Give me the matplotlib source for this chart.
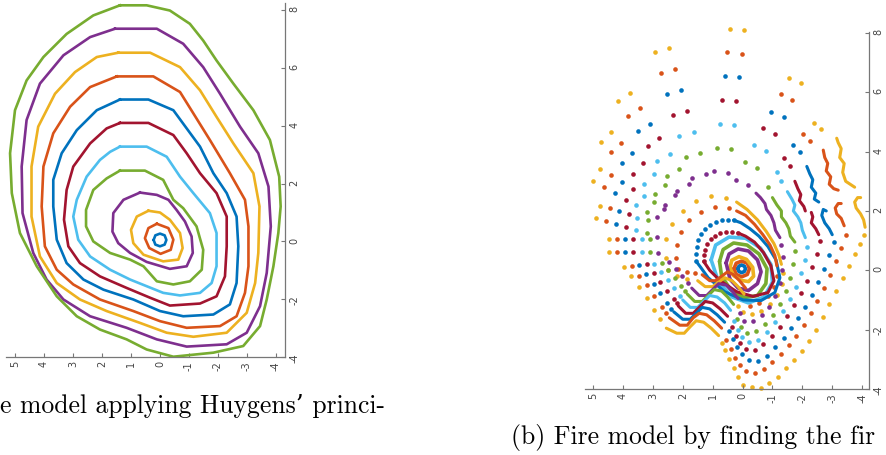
import matplotlib
matplotlib.use("Agg")
import matplotlib.pyplot as plt
import numpy as np

plt.rcParams['axes.unicode_minus'] = False

# matlab default line colours
blue, orange, yellow = '#0072BD', '#D95319', '#EDB120'
purple, green, ltblue, dkred = '#7E2F8E', '#77AC30', '#4DBEEE', '#A2142F'
cycle = [blue, orange, yellow, purple, green, ltblue, dkred]

xticks = [5, 4, 3, 2, 1, 0, -1, -2, -3, -4]
yticks = [-4, -2, 0, 2, 4, 6, 8]

# ---- (a) Huygens contours, innermost first ----
a1 = [(0.22, 0.05), (0.16, 0.21), (0, 0.27), (-0.16, 0.21), (-0.22, 0.05), (-0.16, -0.11), (0, -0.17), (0.16, -0.11)]
a2 = [(0.11, 0.61), (0.40, 0.46), (0.52, 0.11), (0.37, -0.23), (-0.02, -0.43), (-0.37, -0.29), (-0.46, 0.06), (-0.29, 0.46)]
a3 = [(0.40, 1.06), (0.80, 0.86), (1.00, 0.40), (0.92, -0.06), (0.57, -0.46), (-0.11, -0.69), (-0.63, -0.63),
      (-0.78, -0.23), (-0.69, 0.29), (-0.34, 0.75), (0, 1.0)]
a4 = [(0.69, 1.69), (1.26, 1.44), (1.61, 0.98), (1.64, 0.34), (1.44, -0.06), (1.03, -0.40), (0.46, -0.71),
      (-0.34, -0.95), (-0.92, -0.86), (-1.13, -0.40), (-1.09, 0.17), (-0.86, 0.69), (-0.57, 1.09), (-0.29, 1.44), (0.11, 1.61)]
a5 = [(1.38, 2.45), (0.52, 2.45), (-0.11, 2.13), (-0.46, 1.44), (-0.80, 1.15), (-1.26, 0.52), (-1.49, -0.29),
      (-1.44, -0.98), (-1.03, -1.38), (-0.46, -1.49), (0.11, -1.38), (0.57, -0.86), (1.03, -0.63), (1.72, -0.40),
      (2.30, 0), (2.55, 0.52), (2.55, 1.09), (2.30, 1.78), (1.84, 2.18)]
a6 = [(1.38, 3.28), (0.46, 3.28), (-0.23, 2.93), (-0.69, 2.24), (-1.15, 1.67), (-1.72, 0.98), (-1.95, 0.29),
      (-1.95, -0.86), (-1.78, -1.44), (-1.38, -1.78), (-0.69, -1.87), (-0.11, -1.78), (0.46, -1.55), (1.03, -1.32),
      (1.72, -0.98), (2.41, -0.52), (2.82, 0.06), (2.99, 0.86), (2.87, 1.44), (2.53, 2.24), (2.07, 2.82), (1.72, 3.10)]
a7 = [(1.38, 4.10), (0.40, 4.10), (-0.46, 3.68), (-0.92, 3.05), (-1.38, 2.36), (-1.95, 1.67), (-2.30, 0.86),
      (-2.30, -0.17), (-2.24, -1.21), (-1.95, -1.90), (-1.38, -2.15), (-0.34, -2.22), (0.34, -1.95), (1.15, -1.61),
      (2.07, -1.21), (2.76, -0.75), (3.16, -0.17), (3.31, 0.75), (3.22, 1.78), (2.99, 2.59), (2.41, 3.39), (1.84, 3.91)]
a8 = [(1.38, 4.91), (0.40, 4.91), (-0.46, 4.54), (-0.92, 3.91), (-1.38, 3.28), (-1.84, 2.36), (-2.30, 1.67),
      (-2.64, 0.86), (-2.70, -0.17), (-2.64, -1.44), (-2.41, -2.18), (-1.84, -2.53), (-0.80, -2.59), (0, -2.41),
      (0.92, -2.01), (1.95, -1.67), (2.64, -1.32), (3.22, -0.75), (3.56, 0.06), (3.68, 1.21), (3.68, 2.13),
      (3.39, 3.05), (2.87, 3.85), (2.18, 4.54)]
a9 = [(1.49, 5.71), (0.23, 5.71), (-0.69, 5.17), (-1.15, 4.43), (-1.72, 3.51), (-2.41, 2.36), (-2.93, 1.44),
      (-3.05, 0.52), (-3.05, -0.86), (-2.93, -1.78), (-2.64, -2.59), (-2.07, -2.93), (-0.92, -2.99), (0, -2.76),
      (0.92, -2.41), (2.07, -2.01), (2.99, -1.49), (3.56, -0.98), (3.97, -0.17), (4.08, 1.21), (4.02, 2.59),
      (3.68, 3.74), (3.10, 4.66), (2.41, 5.34)]
a10 = [(1.44, 6.53), (0.34, 6.53), (-0.69, 6.03), (-1.38, 5.23), (-1.95, 4.31), (-2.53, 3.39), (-3.22, 2.36),
       (-3.43, 1.21), (-3.39, -0.40), (-3.28, -1.44), (-2.99, -2.47), (-2.30, -3.16), (-1.15, -3.30), (-0.23, -3.16),
       (0.69, -2.82), (1.84, -2.41), (2.76, -2.01), (3.56, -1.44), (4.14, -0.52), (4.43, 0.86), (4.43, 2.59),
       (4.20, 3.97), (3.62, 5.11), (2.93, 5.86), (2.18, 6.38)]
a11 = [(1.55, 7.36), (0.11, 7.36), (-0.80, 6.84), (-1.49, 6.03), (-2.07, 5.11), (-2.76, 3.97), (-3.39, 3.05),
       (-3.74, 1.90), (-3.82, 0.52), (-3.68, -1.09), (-3.45, -2.24), (-2.99, -3.16), (-2.30, -3.56), (-0.92, -3.64),
       (0.11, -3.39), (1.15, -2.99), (2.41, -2.59), (3.33, -2.01), (3.91, -1.32), (4.37, -0.40), (4.74, 0.98),
       (4.77, 2.59), (4.60, 4.20), (4.14, 5.46), (3.33, 6.44), (2.41, 7.07)]
a12 = [(1.38, 8.17), (0.46, 8.17), (-0.34, 7.99), (-1.03, 7.53), (-1.49, 6.95), (-1.95, 6.26), (-2.53, 5.46),
       (-3.22, 4.54), (-3.79, 3.51), (-4.11, 2.24), (-4.16, 1.21), (-4.08, 0.29), (-3.91, -0.86), (-3.68, -2.01),
       (-3.45, -2.93), (-2.87, -3.62), (-1.84, -3.85), (-0.46, -3.99), (0.46, -3.74), (1.15, -3.39), (2.07, -3.05),
       (2.87, -2.59), (3.56, -1.90), (4.25, -0.86), (4.83, 0.29), (5.11, 1.67), (5.17, 3.05), (5.00, 4.54),
       (4.60, 5.57), (4.02, 6.38), (3.22, 7.18), (2.30, 7.82)]
huygens = [a1, a2, a3, a4, a5, a6, a7, a8, a9, a10, a11, a12]

# ---- (b) fire front markers: closed inner fronts ----
b1 = [(0.16, 0.05), (0.12, 0.14), (0.03, 0.18), (-0.06, 0.14), (-0.10, 0.05), (-0.06, -0.04), (0.03, -0.08), (0.12, -0.04)]
b2 = [(0.29, 0.05), (0.21, 0.24), (0.03, 0.31), (-0.16, 0.24), (-0.23, 0.05), (-0.16, -0.14), (0.03, -0.22), (0.21, -0.14)]
b3 = [(0.42, 0.08), (0.36, 0.34), (0.12, 0.46), (-0.13, 0.37), (-0.34, 0.1), (-0.37, -0.2), (-0.2, -0.38),
      (0.05, -0.34), (0.3, -0.18)]
b4 = [(0.55, 0.25), (0.45, 0.55), (0.15, 0.72), (-0.2, 0.65), (-0.5, 0.35), (-0.62, -0.05), (-0.5, -0.45),
      (-0.2, -0.68), (0.15, -0.6), (0.42, -0.3)]
b5 = [(0.77, 0.3), (0.65, 0.7), (0.3, 0.92), (-0.15, 0.85), (-0.55, 0.55), (-0.82, 0.05), (-0.78, -0.45),
      (-0.5, -0.85), (-0.05, -0.92), (0.4, -0.65), (0.7, -0.2)]
b6 = [(1.05, 0.35), (0.9, 0.85), (0.45, 1.12), (-0.1, 1.08), (-0.6, 0.75), (-0.95, 0.2), (-1.0, -0.4),
      (-0.72, -0.9), (-0.2, -1.1), (0.35, -0.9), (0.8, -0.4)]
b7_dots = [(1.3, 0.3), (1.3, 0.5), (1.26, 0.7), (1.18, 0.88), (1.06, 1.04), (0.92, 1.16), (0.75, 1.25),
           (0.56, 1.3), (0.36, 1.3), (0.16, 1.26)]
b7_line = [(0.16, 1.26), (-0.1, 1.15), (-0.4, 0.95), (-0.7, 0.6), (-0.95, 0.15), (-1.05, -0.35), (-0.85, -0.75),
           (-0.35, -0.88), (0.2, -0.72), (0.75, -0.35), (1.1, 0.0), (1.3, 0.3)]
b8_dots = [(1.55, 0.3), (1.56, 0.55), (1.54, 0.8), (1.48, 1.02), (1.38, 1.22), (1.24, 1.4), (1.08, 1.53),
           (0.9, 1.63), (0.7, 1.69), (0.5, 1.71), (0.3, 1.69)]
b8_line = [(0.3, 1.69), (0.05, 1.6), (-0.25, 1.4), (-0.55, 1.15), (-0.85, 0.8), (-1.12, 0.35), (-1.25, -0.25),
           (-1.08, -0.75), (-0.62, -1.02), (-0.02, -1.0), (0.6, -0.72), (1.15, -0.25), (1.4, 0.1), (1.55, 0.3)]

# ---- open fronts 9..17: sparse markers and dense stretches ----
b9_dots = [(1.6, -0.1), (1.85, -0.05), (2.15, 0.05), (2.22, 0.4), (2.2, 0.85), (2.05, 1.3), (1.78, 1.68),
           (1.38, 1.98), (0.92, 2.12), (0.45, 2.1), (-1.15, -0.2), (-1.05, -0.55), (-0.85, -0.85),
           (-0.55, -1.1), (-0.25, -1.2)]
b9_lines = [[(0.2, 2.0), (-0.1, 1.85), (-0.4, 1.55), (-0.68, 1.2), (-0.92, 0.85), (-1.08, 0.5), (-1.15, 0.15)],
            [(1.35, -0.15), (1.1, -0.35), (0.9, -0.35), (0.7, -0.2), (0.5, -0.05), (0.3, -0.15), (0.1, -0.35), (-0.1, -0.6)]]
b10_dots = [(1.85, -0.3), (2.2, -0.2), (2.5, 0.0), (2.55, 0.4), (2.55, 1.04), (2.35, 1.55), (2.0, 2.0),
            (1.55, 2.35), (1.05, 2.5), (0.55, 2.45), (-1.36, -0.1), (-1.32, -0.45), (-1.15, -0.82),
            (-0.92, -1.15), (-0.62, -1.38), (-0.3, -1.47), (0.0, -1.42), (0.15, -1.2)]
b10_lines = [[(0.2, 2.3), (-0.15, 2.05), (-0.5, 1.7), (-0.8, 1.3), (-1.05, 0.9), (-1.22, 0.5), (-1.3, 0.2)],
             [(1.5, -0.35), (1.25, -0.55), (1.0, -0.55), (0.8, -0.4), (0.6, -0.25), (0.35, -0.35), (0.15, -0.55), (-0.05, -0.8)]]
b11_dots = [(-0.18, 2.88), (0.21, 3.04), (0.47, 3.29), (0.94, 3.33), (1.23, 3.26), (1.69, 3.12), (1.8, 2.9),
            (2.2, 2.68), (2.27, 2.55), (2.6, 2.2), (2.62, 2.05), (2.85, 1.78), (2.85, 1.13), (2.82, 0.58),
            (2.45, 0.28), (2.22, 0.05), (2.02, -0.18), (1.82, -0.42),
            (-1.3, 0.85), (-1.35, 0.45), (-1.33, 0.0), (-1.25, -0.42), (-1.1, -0.85), (-0.9, -1.22),
            (-0.65, -1.52), (-0.35, -1.72), (-0.05, -1.72), (0.1, -1.45)]
b11_lines = [[(-0.45, 2.6), (-0.6, 2.45), (-0.75, 2.25), (-0.8, 2.05), (-0.95, 1.85), (-1.05, 1.6), (-1.1, 1.35), (-1.25, 1.1)],
             [(1.7, -0.6), (1.45, -0.85), (1.2, -0.85), (1.0, -0.65), (0.8, -0.45), (0.55, -0.5), (0.35, -0.7), (0.15, -0.95)]]
b12_dots = [(-0.85, 2.82), (-0.48, 3.44), (-0.09, 3.64), (0.38, 4.09), (0.85, 4.13), (1.43, 3.94), (1.90, 3.83),
            (2.13, 3.42), (2.52, 3.17), (2.61, 2.88), (2.94, 2.56), (2.95, 2.30), (3.2, 1.98), (3.17, 1.70),
            (3.2, 1.27), (3.11, 1.04), (3.11, 0.61), (2.7, 0.25), (2.48, 0.0), (2.27, -0.25), (2.05, -0.52), (1.92, -0.7),
            (-1.75, 0.65), (-1.7, 0.2), (-1.6, -0.25), (-1.45, -0.7), (-1.25, -1.12), (-1.02, -1.5), (-0.75, -1.82),
            (-0.45, -2.05), (-0.15, -2.1), (0.05, -1.92), (0.18, -1.65)]
b12_lines = [[(-1.0, 2.45), (-1.15, 2.2), (-1.3, 2.0), (-1.3, 1.8), (-1.45, 1.6), (-1.55, 1.4), (-1.6, 1.15), (-1.75, 0.95)],
             [(1.85, -0.8), (1.6, -1.05), (1.35, -1.05), (1.15, -0.85), (0.95, -0.65), (0.7, -0.7), (0.5, -0.9), (0.3, -1.15)]]
b13_dots = [(-1.3, 3.0), (-1.15, 3.3), (-0.77, 4.03), (-0.38, 4.22), (0.29, 4.90), (0.77, 4.93), (1.64, 4.65),
            (2.11, 4.53), (2.44, 3.93), (2.85, 3.69), (2.97, 3.24), (3.30, 2.91), (3.30, 2.52), (3.55, 2.20),
            (3.52, 1.75), (3.56, 1.36), (3.37, 1.04), (3.37, 0.61), (2.95, 0.22), (2.72, -0.05), (2.5, -0.32),
            (2.28, -0.6), (2.1, -0.85),
            (-2.15, 0.8), (-2.08, 0.35), (-1.95, -0.1), (-1.78, -0.55), (-1.58, -0.98), (-1.35, -1.38), (-1.1, -1.75),
            (-0.82, -2.08), (-0.52, -2.35), (-0.22, -2.42), (0.02, -2.25), (0.15, -2.0), (0.28, -1.72)]
b13_lines = [[(-1.5, 2.65), (-1.65, 2.4), (-1.75, 2.2), (-1.7, 2.0), (-1.85, 1.8), (-1.95, 1.6), (-2.0, 1.35), (-2.1, 1.1)],
             [(2.0, -1.0), (1.75, -1.25), (1.5, -1.25), (1.3, -1.05), (1.1, -0.85), (0.85, -0.9), (0.6, -1.1), (0.4, -1.35)]]
b14_dots = [(-1.6, 3.5), (-1.4, 3.8), (-1.07, 4.60), (-0.68, 4.79), (0.21, 5.69), (0.68, 5.74), (1.85, 5.37),
            (2.32, 5.24), (2.78, 4.45), (3.17, 4.19), (3.32, 3.60), (3.66, 3.24), (3.66, 2.74), (3.90, 2.37),
            (3.8, 1.9), (3.89, 1.45), (3.65, 1.04), (3.65, 0.61), (3.2, 0.2), (2.97, -0.1), (2.75, -0.4),
            (2.52, -0.7), (2.3, -0.98), (2.2, -1.1),
            (-2.6, 1.0), (-2.48, 0.55), (-2.33, 0.1), (-2.15, -0.35), (-1.95, -0.78), (-1.73, -1.18), (-1.5, -1.55),
            (-1.25, -1.9), (-0.98, -2.22), (-0.7, -2.5), (-0.4, -2.68), (-0.12, -2.65), (0.08, -2.45), (0.22, -2.2), (0.35, -1.92)]
b14_lines = [[(-1.75, 3.0), (-1.85, 2.75), (-1.95, 2.55), (-1.9, 2.35), (-2.05, 2.15), (-2.1, 2.0)],
             [(-2.3, 1.95), (-2.35, 1.8), (-2.3, 1.6), (-2.45, 1.4), (-2.55, 1.2)],
             [(2.15, -1.2), (1.9, -1.45), (1.65, -1.45), (1.45, -1.25), (1.25, -1.05), (1.0, -1.1), (0.75, -1.3), (0.5, -1.55)]]
b15_dots = [(-1.91, 3.97), (-1.68, 4.22), (-1.37, 5.16), (-0.96, 5.35), (0.12, 6.51), (0.60, 6.55), (2.05, 6.07),
            (2.52, 5.93), (3.10, 4.94), (3.50, 4.70), (3.69, 3.94), (4.02, 3.61), (4.02, 2.97), (4.26, 2.60),
            (4.12, 2.0), (4.23, 1.56), (3.92, 1.04), (3.92, 0.61), (3.45, 0.18), (3.22, -0.13), (2.97, -0.45),
            (2.75, -0.78), (2.52, -1.1), (2.38, -1.3),
            (-3.05, 0.95), (-2.9, 0.5), (-2.72, 0.05), (-2.53, -0.4), (-2.32, -0.82), (-2.1, -1.22), (-1.87, -1.6),
            (-1.62, -1.95), (-1.37, -2.28), (-1.1, -2.6), (-0.82, -2.88), (-0.52, -3.05), (-0.22, -3.02),
            (0.02, -2.82), (0.18, -2.58), (0.32, -2.32), (0.45, -2.05)]
b15_lines = [[(-2.15, 3.5), (-2.25, 3.25), (-2.35, 3.05), (-2.3, 2.8), (-2.45, 2.6), (-2.4, 2.4), (-2.55, 2.3)],
             [(-2.8, 2.0), (-2.7, 2.05), (-2.65, 1.85), (-2.75, 1.6), (-2.9, 1.4), (-3.0, 1.2)],
             [(2.3, -1.4), (2.0, -1.65), (1.75, -1.65), (1.55, -1.45), (1.35, -1.25), (1.1, -1.3), (0.85, -1.5), (0.6, -1.75)]]
b16_dots = [(-2.27, 4.36), (-2.03, 4.6), (-1.66, 5.74), (-1.27, 5.93), (0.02, 7.30), (0.51, 7.35), (2.27, 6.79),
            (2.74, 6.66), (3.43, 5.46), (3.84, 5.21), (4.06, 4.29), (4.39, 3.97), (4.39, 3.21), (4.64, 2.82),
            (4.45, 2.09), (4.56, 1.67), (4.19, 1.04), (4.19, 0.61), (3.7, 0.15), (3.47, -0.18), (3.2, -0.5),
            (2.95, -0.88), (2.7, -1.22), (2.55, -1.45),
            (-3.45, 1.2), (-3.3, 0.75), (-3.12, 0.3), (-2.93, -0.15), (-2.72, -0.6), (-2.5, -1.05), (-2.28, -1.45),
            (-2.05, -1.85), (-1.8, -2.2), (-1.55, -2.52), (-1.28, -2.82), (-1.0, -3.1), (-0.72, -3.32),
            (-0.42, -3.45), (-0.12, -3.4), (0.1, -3.2), (0.25, -2.95), (0.4, -2.65), (0.55, -2.35)]
b16_lines = [[(-2.7, 4.05), (-2.75, 3.8), (-2.85, 3.6), (-2.8, 3.35), (-2.95, 3.15), (-2.9, 2.9), (-3.05, 2.75), (-3.2, 2.7)],
             [(-3.3, 2.25), (-3.2, 2.25), (-3.1, 2.1), (-3.15, 1.9), (-3.3, 1.75), (-3.4, 1.5)],
             [(2.45, -1.6), (2.1, -1.85), (1.85, -1.85), (1.65, -1.6), (1.45, -1.45), (1.2, -1.5), (0.95, -1.7), (0.7, -1.95)]]
b17_dots = [(-2.63, 4.75), (-2.39, 4.98), (-1.96, 6.30), (-1.57, 6.49), (-0.04, 8.09), (0.43, 8.13), (2.47, 7.48),
            (2.94, 7.35), (3.75, 5.97), (4.17, 5.72), (4.41, 4.65), (4.75, 4.31), (4.76, 3.42), (5.01, 3.02),
            (4.78, 2.17), (4.89, 1.75), (4.48, 1.04), (4.48, 0.61), (3.95, 0.12), (3.72, -0.2), (3.45, -0.55),
            (3.2, -0.95), (2.95, -1.35), (2.75, -1.65),
            (-4.05, 1.2), (-3.92, 0.9), (-3.75, 0.55), (-3.55, 0.15), (-3.35, -0.25), (-3.12, -0.7), (-2.9, -1.15),
            (-2.68, -1.58), (-2.45, -2.0), (-2.22, -2.38), (-1.98, -2.72), (-1.72, -3.02), (-1.45, -3.3),
            (-1.18, -3.58), (-0.9, -3.8), (-0.62, -3.96), (-0.3, -3.92), (0.0, -3.87), (0.15, -3.6), (0.3, -3.3),
            (0.45, -3.0), (0.6, -2.7), (0.7, -2.45)]
b17_lines = [[(-3.15, 4.45), (-3.2, 4.3), (-3.3, 4.1), (-3.25, 3.8), (-3.4, 3.6), (-3.35, 3.3), (-3.45, 3.0), (-3.6, 2.9), (-3.75, 2.8)],
             [(-3.95, 2.45), (-3.85, 2.45), (-3.75, 2.3), (-3.8, 2.1), (-3.95, 1.9), (-4.05, 1.7), (-4.1, 1.45)],
             [(2.55, -1.95), (2.2, -2.12), (1.95, -2.12), (1.75, -1.9), (1.55, -1.7), (1.3, -1.75), (1.05, -1.95), (0.8, -2.2)]]

rings = [b1, b2, b3, b4, b5, b6]
open_fronts = [(b7_dots, [b7_line]), (b8_dots, [b8_line]), (b9_dots, b9_lines), (b10_dots, b10_lines),
               (b11_dots, b11_lines), (b12_dots, b12_lines), (b13_dots, b13_lines), (b14_dots, b14_lines),
               (b15_dots, b15_lines), (b16_dots, b16_lines), (b17_dots, b17_lines)]

cap_a = "e model applying Huygens\u2019 princi-"
cap_b = "(b) Fire model by finding the fir"


def style_axes(ax, xlim, ylim):
    ax.set_xlim(*xlim)
    ax.set_ylim(*ylim)
    ax.set_xticks(xticks)
    ax.set_yticks(yticks)
    ax.yaxis.tick_right()
    ax.spines['left'].set_visible(False)
    ax.spines['top'].set_visible(False)
    for s in ['bottom', 'right']:
        ax.spines[s].set_color('#777777')
        ax.spines[s].set_linewidth(0.9)
    ax.tick_params(direction='in', length=3, width=0.8, color='#777777', labelsize=7,
                   labelcolor='#444444', labelrotation=90, pad=3)
    ax.patch.set_alpha(0)


fig = plt.figure(figsize=(8.87, 4.55), dpi=100)

ax1 = fig.add_axes([6 / 887, 98 / 455, 279 / 887, 354 / 455])
for i, c in enumerate(huygens):
    pts = np.array(c + [c[0]])
    ax1.plot(pts[:, 0], pts[:, 1], color=cycle[i % 7], lw=1.9, solid_joinstyle='round')
style_axes(ax1, (5.31, -4.31), (-4, 8.25))

ax2 = fig.add_axes([585 / 887, 66 / 455, 284 / 887, 357 / 455])
for i, r in enumerate(rings):
    pts = np.array(r + [r[0]])
    ax2.plot(pts[:, 0], pts[:, 1], color=cycle[i % 7], lw=2.6, solid_capstyle='round')
for j, (dots, lines) in enumerate(open_fronts):
    col = cycle[(j + 6) % 7]
    for ln in lines:
        pts = np.array(ln)
        ax2.plot(pts[:, 0], pts[:, 1], color=col, lw=2.2, solid_capstyle='round', solid_joinstyle='round')
    pts = np.array(dots)
    ax2.scatter(pts[:, 0], pts[:, 1], s=11, color=col, linewidths=0, clip_on=False)
style_axes(ax2, (5.27, -4.23), (-4, 8.03))

serif = ['cmr10', 'DejaVu Serif']
fig.text(0.0, 1 - 413 / 455, cap_a, family=serif, fontsize=18.5, va='baseline', ha='left')
fig.text(511 / 887, 1 - 444 / 455, cap_b, family=serif, fontsize=18.5, va='baseline', ha='left')

fig.savefig('out.png', dpi=100)
